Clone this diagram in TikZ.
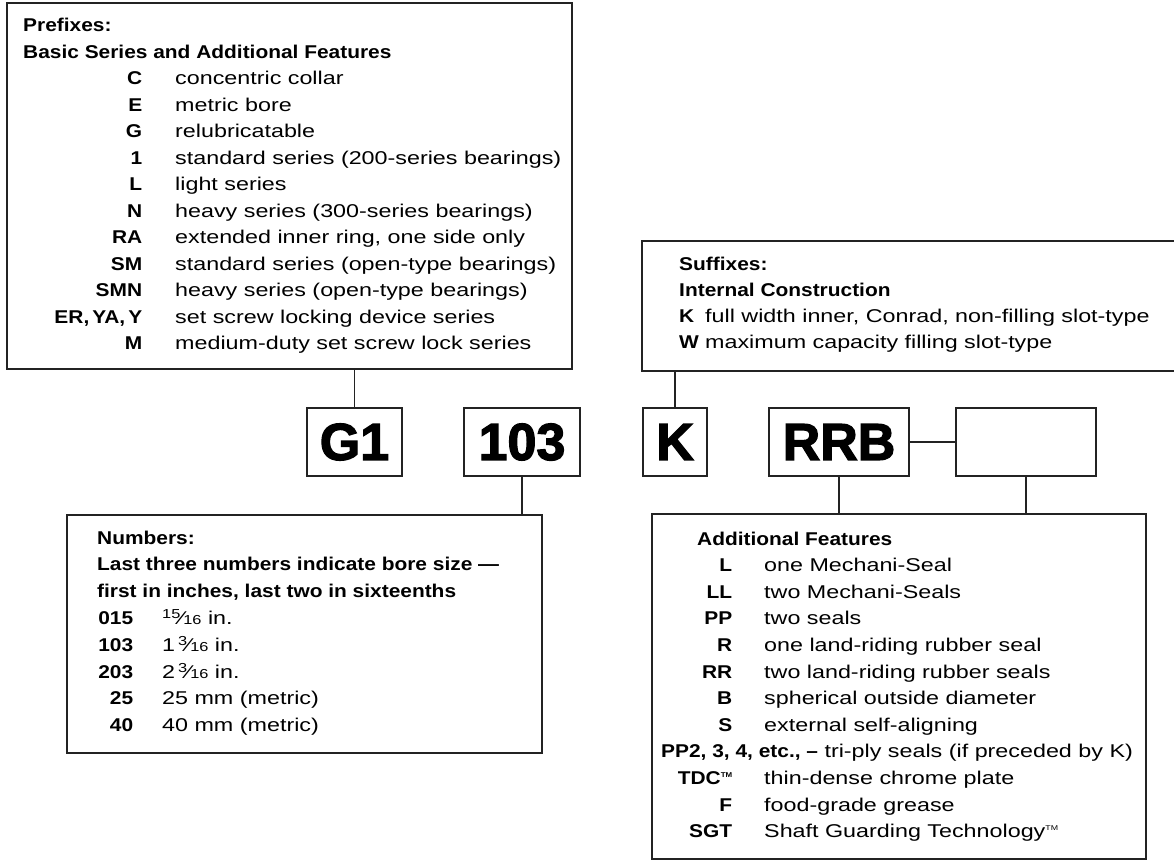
\documentclass[tikz,border=0pt]{standalone}
\usepackage{fontspec}
\usepackage{array}
\setmainfont{Liberation Sans}[FakeStretch=1.26,BoldFeatures={FakeStretch=1.13}]
\newfontfamily\codefont{Liberation Sans Bold}[FakeBold=2.5]

\newcommand{\sixteenths}[1]{\raisebox{5.5pt}{\fontsize{13}{13}\selectfont #1}\kern-0.5pt⁄\kern-0.5pt{\fontsize{13}{13}\selectfont 16}}
\newcommand{\tmark}{\raisebox{7pt}{\fontsize{7}{7}\selectfont TM}}

\begin{document}
\begin{tikzpicture}[x=1pt, y=-1pt,
  framebox/.style={draw=framecolor, line width=1.3pt, inner sep=0pt},
  codebox/.style={framebox, minimum height=68pt, font=\codefont\fontsize{52}{52}\selectfont},
  listtext/.style={anchor=base west, inner sep=0pt, font=\fontsize{18.5}{#1}\selectfont},
  wire/.style={draw=framecolor, line width=1.2pt}]

\definecolor{framecolor}{RGB}{35, 35, 35}

\useasboundingbox (0, 0) rectangle (1174, 863);

\node[framebox, minimum width=565pt, minimum height=366pt] (prefixbox) at (289.5, 186) {};
\node[framebox, minimum width=543pt, minimum height=130pt] (suffixbox) at (913.5, 306) {};
\node[framebox, minimum width=475pt, minimum height=238pt] (numberbox) at (304.5, 634) {};
\node[framebox, minimum width=494pt, minimum height=345pt] (featurebox) at (899, 686.5) {};

\node[codebox, minimum width=95pt] (g1) at (354.5, 442) {G1};
\node[codebox, minimum width=116pt] (n103) at (522, 442) {103};
\node[codebox, minimum width=64pt] (kcode) at (675, 442) {K};
\node[codebox, minimum width=140pt] (rrb) at (839, 442) {RRB};
\node[codebox, minimum width=140pt] (blank) at (1026, 442) {};

\node[listtext=26.5] (prefixlist) at (23, 31.7) {%
\begin{tabular}[t]{@{}>{\raggedleft\arraybackslash\bfseries}p{119pt}@{\hspace{33pt}}l@{}}
\multicolumn{2}{@{}l@{}}{\bfseries Prefixes:}\\
\multicolumn{2}{@{}l@{}}{\bfseries Basic Series and Additional Features}\\
C & concentric collar\\
E & metric bore\\
G & relubricatable\\
1 & standard series (200-series bearings)\\
L & light series\\
N & heavy series (300-series bearings)\\
RA & extended inner ring, one side only\\
SM & standard series (open-type bearings)\\
SMN & heavy series (open-type bearings)\\
ER,\kern3pt YA,\kern3pt Y & set screw locking device series\\
M & medium-duty set screw lock series
\end{tabular}};

\node[listtext=26] (suffixlist) at (679, 270) {%
\begin{tabular}[t]{@{}>{\bfseries}p{26pt}@{}l@{}}
\multicolumn{2}{@{}l@{}}{\bfseries Suffixes:}\\
\multicolumn{2}{@{}l@{}}{\bfseries Internal Construction}\\
K & full width inner, Conrad, non-filling slot-type\\
W & maximum capacity filling slot-type
\end{tabular}};

\node[listtext=26.8] (numberlist) at (97, 544) {%
\begin{tabular}[t]{@{}>{\raggedleft\arraybackslash\bfseries}p{36pt}@{\hspace{29pt}}l@{}}
\multicolumn{2}{@{}l@{}}{\bfseries Numbers:}\\
\multicolumn{2}{@{}l@{}}{\bfseries Last three numbers indicate bore size —}\\
\multicolumn{2}{@{}l@{}}{\bfseries first in inches, last two in sixteenths}\\
015 & \sixteenths{15} in.\\
103 & 1\,\sixteenths{3} in.\\
203 & 2\,\sixteenths{3} in.\\
25 & 25 mm (metric)\\
40 & 40 mm (metric)
\end{tabular}};

\node[listtext=26.6] (featurelist) at (661, 545) {%
\begin{tabular}[t]{@{}>{\raggedleft\arraybackslash\bfseries}p{71pt}@{\hspace{32pt}}l@{}}
\multicolumn{2}{@{}l@{}}{\hspace{36pt}\bfseries Additional Features}\\
L & one Mechani-Seal\\
LL & two Mechani-Seals\\
PP & two seals\\
R & one land-riding rubber seal\\
RR & two land-riding rubber seals\\
B & spherical outside diameter\\
S & external self-aligning\\
\multicolumn{2}{@{}l@{}}{\bfseries PP2, 3, 4, etc., –\mdseries{} tri-ply seals (if preceded by K)}\\
TDC\tmark & thin-dense chrome plate\\
F & food-grade grease\\
SGT & Shaft Guarding Technology\tmark
\end{tabular}};

\draw[wire] (g1.north) -- (g1.north |- prefixbox.south);
\draw[wire] (n103.south) -- (n103.south |- numberbox.north);
\draw[wire] (kcode.north) -- (kcode.north |- suffixbox.south);
\draw[wire] (rrb.south) -- (rrb.south |- featurebox.north);
\draw[wire] (blank.south) -- (blank.south |- featurebox.north);
\draw[wire] (rrb.east) -- (blank.west);

\end{tikzpicture}
\end{document}
